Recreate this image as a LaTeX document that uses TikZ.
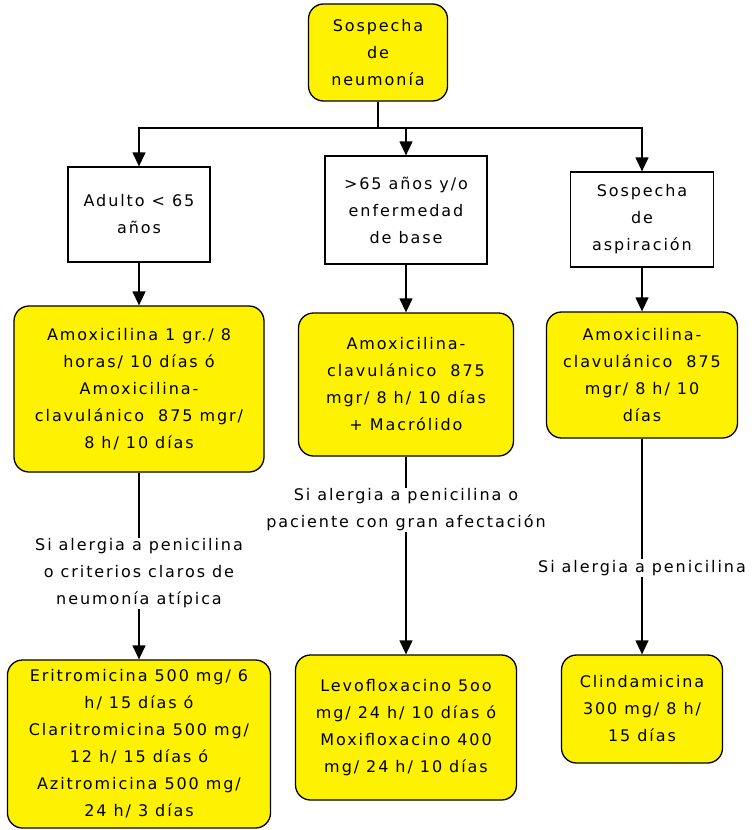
\documentclass[tikz,border=0pt]{standalone}
\usepackage{fontspec}
\setmainfont{DejaVu Sans}[LetterSpace=12]
\usetikzlibrary{arrows.meta}

\tikzset{
  every box/.style={draw, line width=1.3pt, align=center, inner sep=2pt,
    font=\fontsize{16}{27}\selectfont},
  case box/.style={every box, rectangle},
  drug box/.style={every box, fill=yellow, rounded corners=15pt},
  if label/.style={fill=white, align=center, inner sep=1pt,
    font=\fontsize{16}{27}\selectfont}
}

\begin{document}
\begin{tikzpicture}[x=1pt, y=-1pt, >={Triangle[length=14pt, width=13pt]}, line width=1.3pt]

\useasboundingbox (0,0) rectangle (755,830);

% top
\node [drug box, minimum width=139pt, minimum height=97pt] (top) at (378,52.5)
  {Sospecha\\de\\neumonía};
\coordinate (fork) at (378,128);

% cases
\node [case box, minimum width=142pt, minimum height=95pt] (adulto) at (139,214.5)
  {Adulto < 65\\años};
\node [case box, minimum width=162pt, minimum height=108pt] (mayor) at (406,210)
  {>65 años y/o\\enfermedad\\de base};
\node [case box, minimum width=143pt, minimum height=95pt] (aspira) at (642,219.5)
  {Sospecha\\de\\aspiración};

% first choice
\node [drug box, minimum width=250pt, minimum height=166pt] (amoxi1) at (139,389)
  {Amoxicilina 1 gr./ 8\\horas/ 10 días ó\\Amoxicilina-\\clavulánico\ \ 875 mgr/\\8 h/ 10 días};
\node [drug box, minimum width=215pt, minimum height=143pt] (amoxi2) at (406,384.5)
  {Amoxicilina-\\clavulánico\ \ 875\\mgr/ 8 h/ 10 días\\+ Macrólido};
\node [drug box, minimum width=191pt, minimum height=126pt] (amoxi3) at (642,375)
  {Amoxicilina-\\clavulánico\ \ 875\\mgr/ 8 h/ 10\\días};

% alternative
\node [drug box, minimum width=263pt, minimum height=168pt] (eritro) at (139,744)
  {Eritromicina 500 mg/ 6\\h/ 15 días ó\\Claritromicina 500 mg/\\12 h/ 15 días ó\\Azitromicina 500 mg/\\24 h/ 3 días};
\node [drug box, minimum width=221pt, minimum height=145pt] (levo) at (406,727.5)
  {Levofloxacino 5oo\\mg/ 24 h/ 10 días ó\\Moxifloxacino 400\\mg/ 24 h/ 10 días};
\node [drug box, minimum width=161pt, minimum height=108pt] (clinda) at (642,709)
  {Clindamicina\\300 mg/ 8 h/\\15 días};

% Connections

% top -> cases
\draw (top) -- (fork);
\foreach \n in {adulto,mayor,aspira}
  \draw [->] (fork) -| (\n);

% cases -> first choice
\draw [->] (adulto) -- (amoxi1);
\draw [->] (mayor) -- (amoxi2);
\draw [->] (aspira) -- (amoxi3);

% first choice -> alternative
\draw [->] (amoxi1) -- node [if label, pos=0.54] (lbl-1)
  {Si alergia a penicilina\\o criterios claros de\\neumonía atípica} (eritro);
\draw [->] (amoxi2) -- node [if label, pos=0.27] (lbl-2)
  {Si alergia a penicilina o\\paciente con gran afectación} (levo);
\draw [->] (amoxi3) -- node [if label, pos=0.6] (lbl-3)
  {Si alergia a penicilina} (clinda);

\end{tikzpicture}
\end{document}
